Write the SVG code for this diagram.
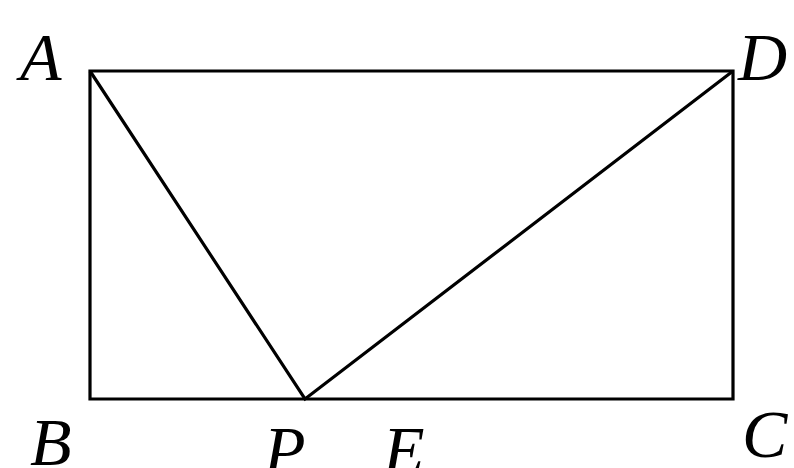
<svg xmlns="http://www.w3.org/2000/svg" width="794" height="468" viewBox="0 0 794 468">
<style>
.e{stroke:#000;stroke-width:3.2;fill:none;stroke-linejoin:miter}
.l{font-family:"Liberation Serif","Times New Roman",serif;font-style:italic;font-size:68px;fill:#000}
</style>
<rect width="794" height="468" fill="#fff"/>
<g id="connectors">
<polygon class="e" points="90,71 733,71 733,399 90,399"/>
<polyline class="e" points="90,71 305,399 733,71"/>
</g>
<g id="A"><text class="l" x="20" y="80">A</text></g>
<g id="D"><text class="l" x="738" y="80">D</text></g>
<g id="B"><text class="l" x="30" y="465">B</text></g>
<g id="P"><text class="l" x="264" y="473">P</text></g>
<g id="E"><text class="l" x="383" y="473">E</text></g>
<g id="C"><text class="l" x="742" y="457">C</text></g>
</svg>
